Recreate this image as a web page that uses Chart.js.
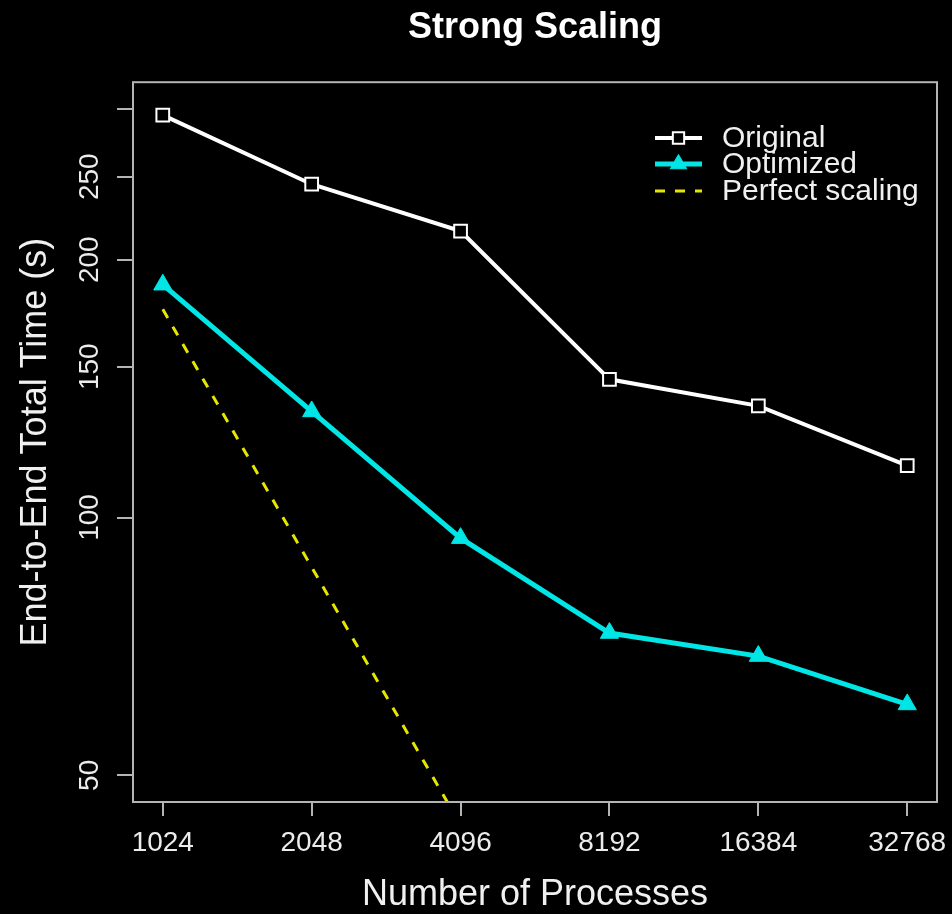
<!DOCTYPE html>
<html>
<head>
<meta charset="utf-8">
<title>Strong Scaling</title>
<script src="https://cdn.jsdelivr.net/npm/chart.js@4.4.0/dist/chart.umd.min.js"></script>
<style>
  body { margin: 0; background: #000; }
  #wrap { width: 952px; height: 914px; }
</style>
</head>
<body>
<div id="wrap"><canvas id="scaling" width="952" height="914"></canvas></div>
<script>
const procs = [1024, 2048, 4096, 8192, 16384, 32768];
const original = [295, 245, 216, 145, 135, 115];
const optimized = [187, 133, 94.6, 73.3, 68.9, 60.5];
const perfect = [175, 87.5, 43.75, 21.9, 10.9, 5.47];
const yTicks = [50, 100, 150, 200, 250, 300];
const yLabelled = [50, 100, 150, 200, 250];

const FONT = "'Liberation Sans', Arial, Helvetica, sans-serif";
const GREY = '#b4b4b4';

const toPoints = (vals) => procs.map((p, i) => ({x: p, y: vals[i]}));

const scalingData = {
  datasets: [{
    label: 'Original',
    data: toPoints(original),
    borderColor: '#ffffff',
    backgroundColor: '#000000',
    borderWidth: 4,
    pointStyle: 'rect',
    pointRadius: 9,
    pointBorderWidth: 2,
    pointBorderColor: '#ffffff',
    pointBackgroundColor: '#000000',
    tension: 0
  }, {
    label: 'Optimized',
    data: toPoints(optimized),
    borderColor: '#00e5e5',
    backgroundColor: '#00e5e5',
    borderWidth: 5,
    pointStyle: 'triangle',
    pointRadius: 10.5,
    pointBorderWidth: 1,
    pointBorderColor: '#00e5e5',
    pointBackgroundColor: '#00e5e5',
    tension: 0
  }, {
    label: 'Perfect scaling',
    data: toPoints(perfect),
    borderColor: '#e6e600',
    backgroundColor: '#e6e600',
    borderWidth: 3,
    borderDash: [10, 10],
    pointRadius: 0,
    tension: 0
  }]
};

// box round the plot area, like R's box()
const plotBox = {
  id: 'plotBox',
  afterDatasetsDraw(chart) {
    const a = chart.chartArea;
    const ctx = chart.ctx;
    ctx.save();
    ctx.strokeStyle = GREY;
    ctx.lineWidth = 2;
    ctx.strokeRect(a.left, a.top, a.right - a.left, a.bottom - a.top);
    ctx.restore();
  }
};

// legend in the top right corner inside the plot
const boxLegend = {
  id: 'boxLegend',
  afterDraw(chart) {
    const ctx = chart.ctx;
    const a = chart.chartArea;
    const x0 = a.right - 282, x1 = a.right - 235, tx = a.right - 215;
    const cx = (x0 + x1) / 2;
    const rows = [138, 164, 191];
    ctx.save();
    chart.data.datasets.forEach((ds, i) => {
      const y = rows[i];
      ctx.strokeStyle = ds.borderColor;
      ctx.lineWidth = ds.borderWidth;
      ctx.setLineDash(ds.borderDash || []);
      ctx.beginPath();
      ctx.moveTo(x0, y);
      ctx.lineTo(x1, y);
      ctx.stroke();
      ctx.setLineDash([]);
      if (ds.pointRadius > 0) {
        ctx.fillStyle = ds.pointBackgroundColor;
        ctx.strokeStyle = ds.pointBorderColor;
        ctx.lineWidth = ds.pointBorderWidth;
        ctx.beginPath();
        if (ds.pointStyle === 'rect') {
          const s = (ds.pointRadius - 1) * Math.SQRT1_2;
          ctx.rect(cx - s, y - s, 2 * s, 2 * s);
        } else {
          const r = ds.pointRadius - 1;
          ctx.moveTo(cx, y - r);
          ctx.lineTo(cx + r * 0.866, y + r / 2);
          ctx.lineTo(cx - r * 0.866, y + r / 2);
          ctx.closePath();
        }
        ctx.fill();
        ctx.stroke();
      }
      ctx.fillStyle = '#f0f0f0';
      ctx.font = '30px ' + FONT;
      ctx.textAlign = 'left';
      ctx.textBaseline = 'middle';
      ctx.fillText(ds.label, tx, y + 1);
    });
    ctx.restore();
  }
};

const scalingConfig = {
  type: 'line',
  data: scalingData,
  options: {
    responsive: false,
    animation: false,
    layout: {
      padding: {top: 0, left: 0, right: 15, bottom: 0}
    },
    plugins: {
      legend: {display: false},
      tooltip: {enabled: false},
      title: {
        display: true,
        text: 'Strong Scaling',
        color: '#ffffff',
        fullSize: false,
        font: {family: FONT, size: 36, weight: 'bold', lineHeight: 1.2},
        padding: {top: 6, bottom: 33}
      }
    },
    scales: {
      x: {
        type: 'logarithmic',
        min: 891.4,
        max: 37641,
        bounds: 'data',
        afterBuildTicks: (scale) => { scale.ticks = procs.map(v => ({value: v})); },
        afterFit: (scale) => {
          scale.height = 112;
          scale.paddingLeft = 0;
          scale.paddingRight = 0;
        },
        ticks: {
          autoSkip: false,
          maxRotation: 0,
          minRotation: 0,
          padding: 10,
          color: '#ececec',
          font: {family: FONT, size: 28},
          callback: (v) => String(v)
        },
        grid: {
          drawOnChartArea: false,
          drawTicks: true,
          tickLength: 14,
          lineWidth: 2,
          color: GREY,
          tickColor: GREY
        },
        border: {display: false},
        title: {
          display: true,
          text: 'Number of Processes',
          color: '#f0f0f0',
          font: {family: FONT, size: 36, lineHeight: 1},
          padding: {top: 0, bottom: 1}
        }
      },
      y: {
        type: 'logarithmic',
        min: 46.54,
        max: 322.3,
        bounds: 'data',
        afterBuildTicks: (scale) => { scale.ticks = yTicks.map(v => ({value: v})); },
        afterFit: (scale) => {
          scale.width = 133;
          scale.paddingTop = 0;
          scale.paddingBottom = 0;
        },
        ticks: {
          autoSkip: false,
          minRotation: 90,
          maxRotation: 90,
          crossAlign: 'center',
          padding: 3,
          color: '#ececec',
          font: {family: FONT, size: 28},
          callback: (v) => yLabelled.includes(v) ? String(v) : ''
        },
        grid: {
          drawOnChartArea: false,
          drawTicks: true,
          tickLength: 16,
          lineWidth: 2,
          color: GREY,
          tickColor: GREY
        },
        border: {display: false},
        title: {
          display: true,
          text: 'End-to-End Total Time (s)',
          color: '#f0f0f0',
          font: {family: FONT, size: 36, lineHeight: 1.2},
          padding: {top: 14, bottom: 0}
        }
      }
    }
  },
  plugins: [plotBox, boxLegend]
};

const scalingChart = new Chart(document.getElementById('scaling'), scalingConfig);
</script>
</body>
</html>
